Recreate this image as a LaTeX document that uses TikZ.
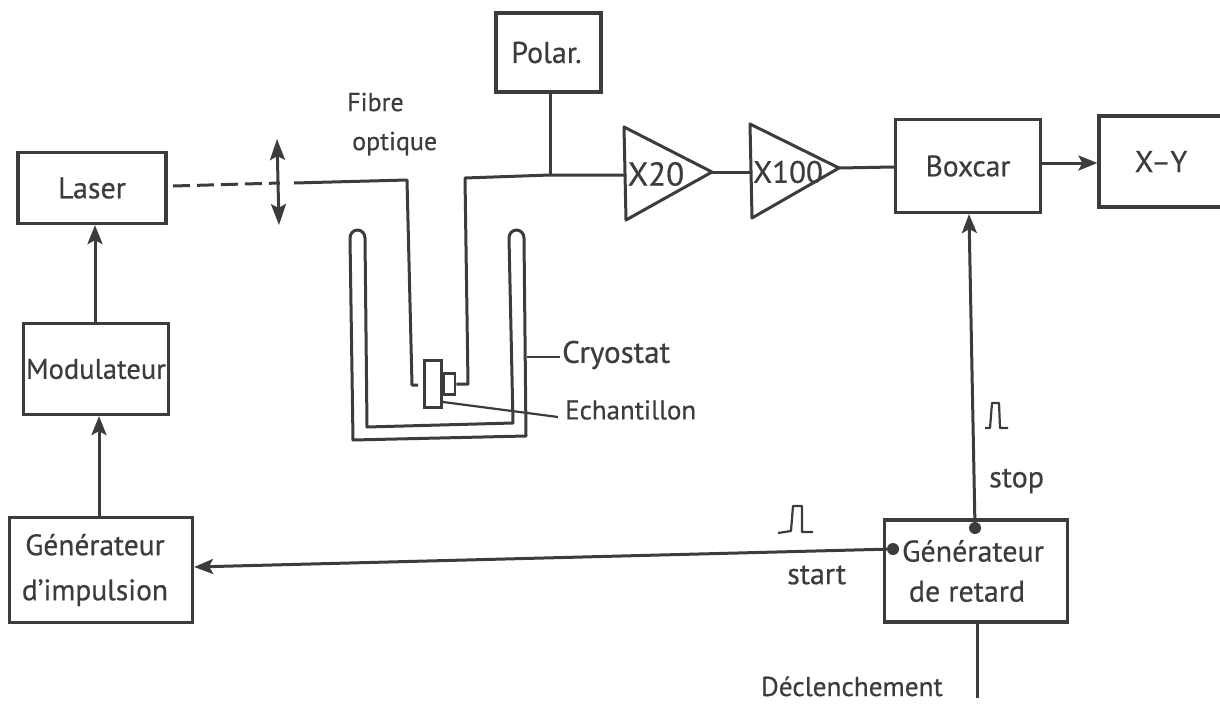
\documentclass[tikz,border=0pt]{standalone}
\usepackage{fontspec}
\setmainfont{PT Sans}[FakeBold=0.5]
\usetikzlibrary{arrows.meta}
\definecolor{ink}{HTML}{3c3c3c}
\newcommand{\fsz}[2]{\fontsize{#1}{#2}\selectfont}
\tikzset{
  wire/.style={draw=ink,line width=3pt,line join=round},
  thin wire/.style={draw=ink,line width=2.2pt,line join=round},
  flow/.style={wire,-{Stealth[length=19pt,width=15pt,inset=4pt]}},
  box/.style={draw=ink,line width=3.2pt,fill=white,align=center,inner sep=0pt,text=ink},
  lab/.style={text=ink,inner sep=0pt,align=center},
  amp/.style={wire,fill=white},
  dot/.style={circle,fill=ink,minimum size=12pt,inner sep=0pt}
}
\begin{document}
\begin{tikzpicture}[x=1pt,y=-1pt]
\useasboundingbox (0,0) rectangle (1220,704);
% boxes
\node[box,font=\fsz{30}{36},minimum width=105pt,minimum height=79pt] (polar) at (548.5,52.5) {\hspace*{-4pt}Polar.};
\node[box,font=\fsz{30}{36},minimum width=148pt,minimum height=71pt] (laser) at (92,188) {Laser};
\node[box,font=\fsz{28.5}{36},minimum width=145pt,minimum height=91pt] (modul) at (96,369) {Modulateur};
\node[box,font=\fsz{29.5}{45},minimum width=183pt,minimum height=105pt] (genimp) at (101,570) {\hspace*{-12pt}Générateur\\\hspace*{-12pt}d'impulsion};
\node[box,font=\fsz{30}{40},minimum width=183pt,minimum height=102pt] (genret) at (976,571) {\hspace*{-6pt}Générateur\\\hspace*{-18pt}de retard};
\node[box,font=\fsz{29.5}{36},minimum width=145pt,minimum height=93pt] (boxcar) at (968,166) {Boxcar};
\node[box,font=\fsz{30}{36},minimum width=126pt,minimum height=91pt] (xy) at (1162,161.5) {\hspace*{-2pt}X--Y};
% amplifiers
\coordinate (a1in) at (624,175);
\coordinate (a1out) at (712,172);
\coordinate (a2in) at (750,172);
\coordinate (a2out) at (839,168);
\draw[amp] (624,127) -- (a1out) -- (626,220) -- cycle;
\draw[amp] (750,124) -- (a2out) -- (752,218) -- cycle;
\node[lab,font=\fsz{33}{36}] (x20) at (656,174) {X20};
\node[lab,font=\fsz{31}{36}] (x100) at (788,172) {X100};
% optics
\coordinate (dashA) at (173,186);
\coordinate (dashB) at (280,183);
\coordinate (lensT) at (277,139);
\coordinate (lensB) at (279,225);
\draw[wire,dash pattern=on 17pt off 7pt] (dashA) -- (dashB);
\draw[wire,{Stealth[length=21pt,width=15pt,inset=4pt]}-{Stealth[length=21pt,width=15pt,inset=4pt]}] (lensT) -- (lensB);
% cryostat
\draw[wire] (353,440) -- (350,238) arc[start angle=-180,end angle=0,x radius=7.5,y radius=8] -- (367,427) -- (513,423) -- (509,238) arc[start angle=-180,end angle=0,x radius=7.5,y radius=8] -- (526,436) -- cycle;
% sample
\node[draw=ink,line width=2.6pt,fill=white,minimum width=17pt,minimum height=47pt,inner sep=0pt] (sample) at (433,384) {};
\node[draw=ink,line width=2.6pt,fill=white,minimum width=11pt,minimum height=21pt,inner sep=0pt,anchor=west] (contact) at (sample.east) {};
% fibre and signal
\coordinate (fibreS) at (294,183);
\coordinate (fibreE) at (418,385);
\draw[wire] (fibreS) -- (407,180) -- (412,385) -- (fibreE);
\coordinate (junction) at (550,175);
\draw[wire] (contact.east) -- (468,384) -- (465,178) -- (junction) -- (a1in);
\draw[wire] (polar.south -| junction) -- (junction);
\draw[wire] (a1out) -- (a2in);
\draw[wire] (a2out) -- (boxcar.west |- 0,167);
\draw[flow] (boxcar.east |- 0,163) -- (xy.west |- 0,163);
% left chain
\draw[flow] (modul.north -| 95,0) -- (laser.south -| 95,0);
\draw[flow] (genimp.north -| 99,0) -- (modul.south -| 99,0);
% delay generator
\node[dot] (dstart) at (893,549) {};
\node[dot] (dstop) at (975,528) {};
\draw[flow] (dstart) -- (genimp.east |- 0,567);
\draw[flow] (dstop) -- (boxcar.south -| 969,0);
\coordinate (trig) at (977,698);
\draw[wire] (genret.south -| trig) -- (trig);
% leaders
\coordinate (cryoL) at (527,357);
\coordinate (cryoE) at (560,357);
\coordinate (sampL) at (443,402);
\coordinate (sampE) at (558,417);
\node[lab,anchor=west,font=\fsz{31}{36}] (cryo) at (562,355) {Cryostat};
\node[lab,anchor=west,font=\fsz{27}{36}] (ech) at (565,410) {Echantillon};
\draw[thin wire] (cryoL) -- (cryoE);
\draw[thin wire] (sampL) -- (sampE);
% labels
\node[lab,align=left,anchor=west,font=\fsz{26}{39}] (fibre) at (347,124) {Fibre\\\hspace*{5pt}optique};
\node[lab,anchor=west,font=\fsz{30}{36}] (stop) at (989,481) {stop};
\node[lab,anchor=west,font=\fsz{30}{36}] (start) at (787,575) {start};
\node[lab,anchor=base east,font=\fsz{27.3}{36}] (decl) at (943,696) {Déclenchement};
% pulses
\draw[thin wire] (985,428) -- (990,428) -- (992,403) -- (999,403) -- (1000,428) -- (1008,428);
\draw[thin wire] (778,533) -- (791,531) -- (793,506) -- (802,506) -- (802,532) -- (813,532);
\end{tikzpicture}
\end{document}
